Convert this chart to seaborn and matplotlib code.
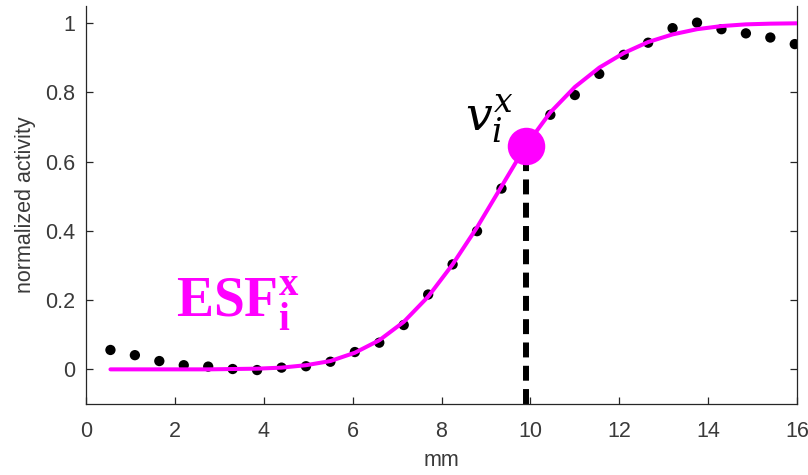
import numpy as np
import pandas as pd
import matplotlib
matplotlib.use("Agg")
import matplotlib.pyplot as plt
import seaborn as sns

# ---- data ----
pos_mm = [0.55, 1.10, 1.65, 2.20, 2.75, 3.30, 3.85, 4.40, 4.95, 5.50,
          6.05, 6.60, 7.15, 7.70, 8.25, 8.80, 9.35, 9.90, 10.45, 11.00,
          11.55, 12.10, 12.65, 13.20, 13.75, 14.30, 14.85, 15.40, 15.95]
activity = [0.056, 0.041, 0.024, 0.012, 0.008, 0.001, -0.002, 0.005, 0.009, 0.022,
            0.050, 0.077, 0.128, 0.216, 0.303, 0.399, 0.522, 0.640, 0.735, 0.792,
            0.853, 0.908, 0.943, 0.985, 1.001, 0.982, 0.970, 0.958, 0.939]

fit_mm = [0.55, 1.10, 1.65, 2.20, 2.75, 3.30, 3.85, 4.40, 4.95, 5.50,
          6.05, 6.60, 7.15, 7.70, 8.25, 8.80, 9.35, 9.90, 10.45, 11.00,
          11.55, 12.10, 12.65, 13.20, 13.75, 14.30, 14.85, 15.40, 16.00]
fit_val = [0.000, 0.000, 0.000, 0.000, 0.000, 0.001, 0.002, 0.005, 0.012, 0.024,
           0.048, 0.084, 0.137, 0.210, 0.303, 0.410, 0.528, 0.646, 0.742, 0.815,
           0.871, 0.913, 0.945, 0.967, 0.982, 0.991, 0.996, 0.998, 0.999]

v_x = [9.90]
v_y = [0.646]

xticks = [0, 2, 4, 6, 8, 10, 12, 14, 16]
yticks = [0, 0.2, 0.4, 0.6, 0.8, 1.0]
ytick_labels = ["0", "0.2", "0.4", "0.6", "0.8", "1"]

# ---- style ----
sns.set_style("ticks")
plt.rcParams["font.family"] = ["Liberation Sans", "DejaVu Sans"]
plt.rcParams["mathtext.fontset"] = "custom"
plt.rcParams["mathtext.bf"] = "Liberation Serif:bold"
plt.rcParams["mathtext.rm"] = "Liberation Serif"
plt.rcParams["mathtext.it"] = "DejaVu Serif:italic"

axis_col = "#262626"
tick_col = "#3a3a3a"
magenta = "#ff00ff"

fig = plt.figure(figsize=(8.08, 4.75), dpi=100)
ax = fig.add_axes([86 / 808, 1 - 404 / 475, (797 - 86) / 808, (404 - 5.65) / 475])

df_pts = pd.DataFrame({"mm": pos_mm, "act": activity})
df_fit = pd.DataFrame({"mm": fit_mm, "act": fit_val})

# dashed vertical marker line
ax.plot([v_x[0], v_x[0]], [-0.1, v_y[0]], color="black", lw=4.3,
        dashes=(2.5, 1.4), solid_capstyle="butt", zorder=2)

sns.scatterplot(data=df_pts, x="mm", y="act", ax=ax, color="black", s=55,
                edgecolor="none", zorder=3)
sns.lineplot(data=df_fit, x="mm", y="act", ax=ax, color=magenta, lw=2.9,
             zorder=4)
ax.plot(v_x, v_y, "o", color=magenta, markersize=27, markeredgewidth=0, zorder=5)

ax.text(2.03, 0.153, r"$\mathbf{ESF}_{\mathbf{i}}^{\mathbf{x}}$", color=magenta,
        fontsize=40, ha="left", va="baseline")
ax.text(9.62, 0.689, r"$v_i^x$", color="black", fontsize=34,
        ha="right", va="baseline")

ax.set_xlim(0, 16)
ax.set_ylim(-0.1, 1.05)
ax.set_xticks(xticks)
ax.set_yticks(yticks)
ax.set_yticklabels(ytick_labels)
ax.set_xlabel("mm", fontsize=15.5, color=tick_col, labelpad=6)
ax.set_ylabel("normalized activity", fontsize=15.5, color=tick_col, labelpad=6)

ax.tick_params(direction="in", length=5, width=0.9, colors=axis_col,
               labelcolor=tick_col, labelsize=15.5, right=True, top=False)
ax.tick_params(axis="x", pad=12)
ax.tick_params(axis="y", pad=8, labelright=False)
for side in ["left", "bottom", "right"]:
    ax.spines[side].set_visible(True)
    ax.spines[side].set_color(axis_col)
    ax.spines[side].set_linewidth(0.9)
ax.spines["top"].set_visible(False)

fig.savefig("out.png", dpi=100)
